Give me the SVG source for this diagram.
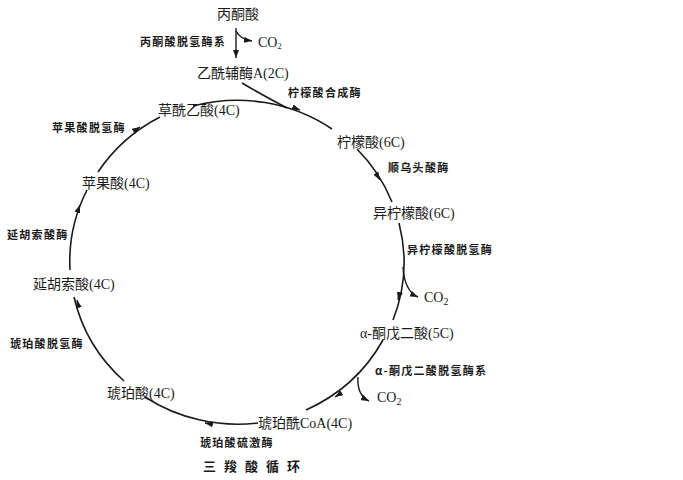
<svg xmlns="http://www.w3.org/2000/svg" width="683" height="480" viewBox="0 0 683 480">
<defs>
<style>
.n{font-family:"Liberation Serif","Noto Sans CJK SC",serif;font-size:14px;fill:#1a1a1a}
.e{font-family:"Noto Sans CJK SC",sans-serif;font-size:11px;font-weight:bold;letter-spacing:1.3px;fill:#1a1a1a}
.t{font-family:"Noto Sans CJK SC",sans-serif;font-size:13px;font-weight:bold;letter-spacing:8px;fill:#1a1a1a}
.c{font-family:"Liberation Serif",serif;font-size:14px;fill:#1a1a1a}
.ln{fill:none;stroke:#1a1a1a;stroke-width:1.6}
.ar{fill:none;stroke:#1a1a1a;stroke-width:1.4;marker-end:url(#ah)}
</style>
<marker id="ah" markerUnits="userSpaceOnUse" markerWidth="9" markerHeight="6" refX="8" refY="3" orient="auto">
<path d="M0,0 L8,3 L0,6 z" fill="#1a1a1a"/>
</marker>
</defs>
<rect width="683" height="480" fill="#fff"/>
<g id="connectors">
<path class="ln" d="M193,106 A167 162 0 0 1 332,129"/>
<path class="ln" d="M242,83 Q262,95 287,108"/>
<path class="ln" d="M357,149 A167 162 0 0 1 392,202"/>
<path class="ln" d="M399,223 A167 162 0 0 1 393,320"/>
<path class="ln" d="M383,340 A167 162 0 0 1 306,410"/>
<path class="ln" d="M258,423 A167 162 0 0 1 145,397"/>
<path class="ln" d="M124,381 A167 162 0 0 1 74,297"/>
<path class="ln" d="M70,270 A167 162 0 0 1 87,190"/>
<path class="ln" d="M98,172 A167 162 0 0 1 160,117"/>
<path class="ar" d="M296.3,108.6 L300,110"/>
<path class="ar" d="M377.9,176.6 L380,180"/>
<path class="ar" d="M399,296 L398,300"/>
<path class="ar" d="M338.4,394.8 L335,397"/>
<path class="ar" d="M208.9,423.7 L205,423"/>
<path class="ar" d="M78,304 L77,300"/>
<path class="ar" d="M78.6,208.7 L80,205"/>
<path class="ar" d="M136.7,129.2 L140,127"/>
<path class="ar" d="M236,28 L236,58"/>
<path class="ar" d="M236,31 C239,37 245,40 252,41"/>
<path class="ar" d="M403,267 C404,284 409,293 418,297"/>
<path class="ar" d="M358,377 C357,390 361,397 369,401"/>
</g>
<g id="pyruvate"><text class="n" x="217" y="19">丙酮酸</text></g>
<g id="pdh"><text class="e" x="140" y="46">丙酮酸脱氢酶系</text></g>
<g id="co2a"><text class="c" x="258" y="47" font-size="11">CO<tspan font-size="8" dy="2">2</tspan></text></g>
<g id="acetylcoa"><text class="n" x="197" y="78">乙酰辅酶A(2C)</text></g>
<g id="cs"><text class="e" x="288" y="97">柠檬酸合成酶</text></g>
<g id="citrate"><text class="n" x="337" y="147">柠檬酸(6C)</text></g>
<g id="aconitase"><text class="e" x="388" y="172">顺乌头酸酶</text></g>
<g id="isocitrate"><text class="n" x="373" y="218">异柠檬酸(6C)</text></g>
<g id="idh"><text class="e" x="407" y="254">异柠檬酸脱氢酶</text></g>
<g id="co2b"><text class="c" x="424" y="302">CO<tspan font-size="10" dy="3">2</tspan></text></g>
<g id="akg"><text class="n" x="360" y="338">α-酮戊二酸(5C)</text></g>
<g id="akgdh"><text class="e" x="375" y="375">α-酮戊二酸脱氢酶系</text></g>
<g id="co2c"><text class="c" x="377" y="402">CO<tspan font-size="10" dy="3">2</tspan></text></g>
<g id="succoa"><text class="n" x="258" y="428">琥珀酰CoA(4C)</text></g>
<g id="scs"><text class="e" x="200" y="447">琥珀酸硫激酶</text></g>
<g id="title"><text class="t" x="203" y="471">三羧酸循环</text></g>
<g id="succinate"><text class="n" x="107" y="398">琥珀酸(4C)</text></g>
<g id="sdh"><text class="e" x="10" y="348">琥珀酸脱氢酶</text></g>
<g id="fumarate"><text class="n" x="33" y="289">延胡索酸(4C)</text></g>
<g id="fumarase"><text class="e" x="7" y="239">延胡索酸酶</text></g>
<g id="malate"><text class="n" x="82" y="188">苹果酸(4C)</text></g>
<g id="mdh"><text class="e" x="52" y="132">苹果酸脱氢酶</text></g>
<g id="oaa"><text class="n" x="158" y="115">草酰乙酸(4C)</text></g>
</svg>
